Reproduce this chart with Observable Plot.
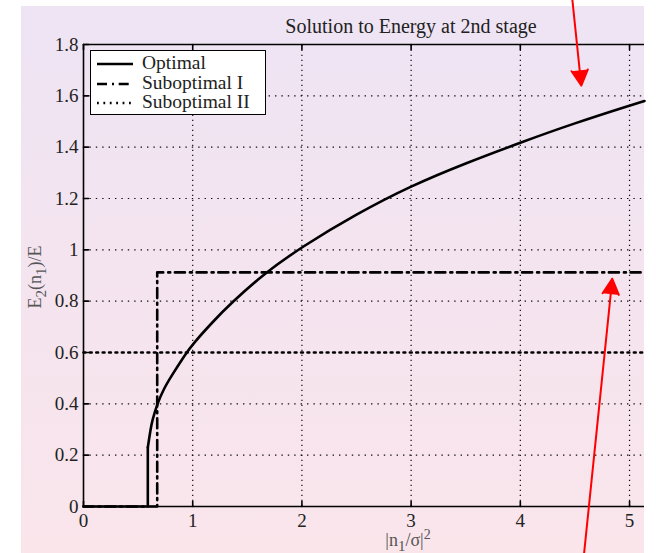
<!DOCTYPE html>
<html>
<head>
<meta charset="utf-8">
<script src="https://cdn.jsdelivr.net/npm/d3@7"></script>
<script src="https://cdn.jsdelivr.net/npm/@observablehq/plot@0.6"></script>
<style>
  html, body { margin: 0; padding: 0; background: #fff; }
  #wrap { position: relative; width: 656px; height: 553px; overflow: hidden; font-family: "Liberation Serif", "DejaVu Serif", serif; }
  #bg { position: absolute; left: 21px; top: 6px; width: 623px; height: 547px;
        background: linear-gradient(180deg, #eee4f4 0%, #f4e4ef 50%, #fae5eb 100%); }
  #chart { position: absolute; left: 0; top: 0; }
  #legend { position: absolute; left: 90px; top: 50px; width: 176px; height: 65px; box-sizing: border-box;
            border: 1.5px solid #000; background: #fff; }
  #legend .row { position: absolute; left: 0; height: 20px; width: 172px; }
  #legend .row svg { position: absolute; left: 5px; top: 0; }
  #legend .row span { position: absolute; left: 51px; top: -2px; font-size: 19.5px; color: #222; line-height: 22px; white-space: nowrap; }
</style>
</head>
<body>
<div id="wrap">
  <div id="bg"></div>
  <div id="chart"></div>
  <div id="legend"></div>
</div>
<script>
// Normalised noise energy on the horizontal axis, energy ratio on the vertical axis
const xMax = 5.137;
const xTicks = [0, 1, 2, 3, 4, 5];
const xTickLabels = ["0", "1", "2", "3", "4", "5"];
const yTicks = [0, 0.2, 0.4, 0.6, 0.8, 1, 1.2, 1.4, 1.6, 1.8];
const yTickLabels = ["0", "0.2", "0.4", "0.6", "0.8", "1", "1.2", "1.4", "1.6", "1.8"];

// Optimal allocation: zero below the threshold, then a rising concave curve
const optX = [0, 0.589, 0.589, 0.598, 0.614, 0.629, 0.675, 0.735, 0.797, 0.934, 1.0, 1.193, 1.346, 1.651, 2.0, 2.5, 3.0, 3.5, 4.0, 4.5, 5.0, 5.137];
const optY = [0, 0, 0.23, 0.256, 0.30, 0.334, 0.40, 0.458, 0.503, 0.594, 0.633, 0.724, 0.79, 0.907, 1.012, 1.14, 1.25, 1.338, 1.418, 1.494, 1.562, 1.58];

// Suboptimal I: a single step to a constant level
const sub1X = [0, 0.675, 0.675, 5.137];
const sub1Y = [0, 0, 0.912, 0.912];

// Suboptimal II: constant level throughout
const sub2X = [0, 5.137];
const sub2Y = [0.6, 0.6];

// Red annotation arrows (tail -> head)
const arrowTailX = [4.475, 4.582];
const arrowTailY = [1.98, -0.19];
const arrowHeadX = [4.558, 4.842];
const arrowHeadY = [1.640, 0.887];

const seriesNames = ["Optimal", "Suboptimal I", "Suboptimal II"];

const styles = {
  opt: { stroke: "#000", strokeWidth: 2.6 },
  sub1: { stroke: "#000", strokeWidth: 2.6, strokeDasharray: "10,5,2,4.7" },
  sub2: { stroke: "#000", strokeWidth: 2.6, strokeDasharray: "1.8,4.6" }
};

const idx = (arr) => arr.map((_, i) => i);
const optStep = [0, 1, 2];
const optCurve = idx(optX).slice(2);
const arrows = idx(arrowTailX);

// inward tick shape for Plot.vector
const tickShape = { draw(ctx, l) { ctx.moveTo(0, 0); ctx.lineTo(0, -l); } };

const gridDots = { stroke: "#000", strokeWidth: 1.2, strokeOpacity: 0.95 };

const chart = Plot.plot({
  width: 656,
  height: 553,
  marginLeft: 83,
  marginRight: 12,
  marginTop: 44,
  marginBottom: 47,
  x: { domain: [0, xMax] },
  y: { domain: [0, 1.8] },
  style: { background: "transparent", fontFamily: "Liberation Serif, serif", color: "#222", overflow: "visible" },
  marks: [
    // dotted grid
    Plot.ruleX(xTicks.slice(1), { x: d => d, y1: 0, y2: 1.8, ...gridDots, strokeDasharray: "1.2,3.8" }),
    Plot.ruleY(yTicks.slice(1, -1), { y: d => d, x1: 0, x2: xMax, ...gridDots, strokeDasharray: "1.4,5" }),
    // series
    Plot.line(idx(sub2X), { x: i => sub2X[i], y: i => sub2Y[i], ...styles.sub2 }),
    Plot.line(idx(sub1X), { x: i => sub1X[i], y: i => sub1Y[i], ...styles.sub1 }),
    Plot.line(optStep, { x: i => optX[i], y: i => optY[i], ...styles.opt }),
    Plot.line(optCurve, { x: i => optX[i], y: i => optY[i], curve: "basis", ...styles.opt }),
    // frame: bottom, top, left
    Plot.ruleY([0, 1.8], { y: d => d, stroke: "#000", strokeWidth: 1.6 }),
    Plot.ruleX([0], { x: d => d, stroke: "#000", strokeWidth: 1.6 }),
    // inward tick marks
    Plot.vector(xTicks, { x: d => d, y: 0, length: 5, rotate: 0, anchor: "start", shape: tickShape, stroke: "#000", strokeWidth: 1.6 }),
    Plot.vector(xTicks, { x: d => d, y: 1.8, length: 5, rotate: 180, anchor: "start", shape: tickShape, stroke: "#000", strokeWidth: 1.6 }),
    Plot.vector(yTicks, { x: 0, y: d => d, length: 5, rotate: 90, anchor: "start", shape: tickShape, stroke: "#000", strokeWidth: 1.6 }),
    // tick labels
    Plot.axisX(xTicks, { tickSize: 0, tickPadding: 7, fontSize: 19, label: null, tickFormat: (d, i) => xTickLabels[i] }),
    Plot.axisY(yTicks, { tickSize: 0, tickPadding: 5, fontSize: 19, label: null, tickFormat: (d, i) => yTickLabels[i] }),
    // annotation arrows
    Plot.arrow(arrows, {
      x1: i => arrowTailX[i], y1: i => arrowTailY[i],
      x2: i => arrowHeadX[i], y2: i => arrowHeadY[i],
      stroke: "#ff0000", fill: "#ff0000", strokeWidth: 2, headAngle: 56, headLength: 13
    })
  ]
});

document.getElementById("chart").append(chart);

// title and axis labels with sub/superscripts
const svg = d3.select(chart);
svg.append("text")
  .attr("x", 411).attr("y", 33)
  .attr("text-anchor", "middle")
  .attr("font-size", 20).attr("fill", "#222")
  .text("Solution to Energy at 2nd stage");

const yl = svg.append("text")
  .attr("transform", "translate(41,277) rotate(-90)")
  .attr("text-anchor", "middle")
  .attr("font-size", 18).attr("fill", "#555");
yl.append("tspan").text("E");
yl.append("tspan").attr("dy", 5).attr("font-size", 15).text("2");
yl.append("tspan").attr("dy", -5).text("(n");
yl.append("tspan").attr("dy", 5).attr("font-size", 15).text("1");
yl.append("tspan").attr("dy", -5).text(")/E");

const xl = svg.append("text")
  .attr("x", 408).attr("y", 546)
  .attr("text-anchor", "middle")
  .attr("font-size", 18).attr("fill", "#555");
xl.append("tspan").text("|n");
xl.append("tspan").attr("dy", 5).attr("font-size", 15).text("1");
xl.append("tspan").attr("dy", -5).text("/σ|");
xl.append("tspan").attr("dy", -7).attr("font-size", 14).text("2");

// legend
const legend = d3.select("#legend");
const legendStyles = [styles.opt, styles.sub1, styles.sub2];
seriesNames.forEach((name, i) => {
  const row = legend.append("div").attr("class", "row").style("top", `${3 + i * 19.5}px`);
  const s = row.append("svg").attr("width", 40).attr("height", 20);
  const st = legendStyles[i];
  s.append("line")
    .attr("x1", 1).attr("x2", 37).attr("y1", 10).attr("y2", 10)
    .attr("stroke", st.stroke).attr("stroke-width", st.strokeWidth)
    .attr("stroke-dasharray", st.strokeDasharray || null);
  row.append("span").text(name);
});
</script>
</body>
</html>
